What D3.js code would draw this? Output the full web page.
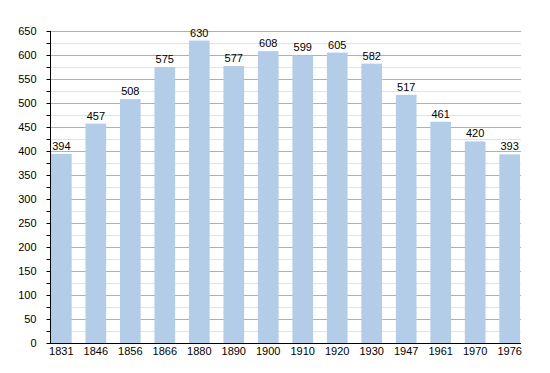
<!DOCTYPE html>
<html>
<head>
<meta charset="utf-8">
<script src="https://cdn.jsdelivr.net/npm/d3@7"></script>
<style>
body{margin:0;background:#fff;}
text{font-family:"Liberation Sans",Arial,sans-serif;}
</style>
</head>
<body>
<div id="chart"></div>
<script>
var years = ["1831","1846","1856","1866","1880","1890","1900","1910","1920","1930","1947","1961","1970","1976"];
var population = [394,457,508,575,630,577,608,599,605,582,517,461,420,393];
var yTicks = [0,50,100,150,200,250,300,350,400,450,500,550,600,650];

var width = 550, height = 373;
var plotLeft = 50, plotRight = 521, plotTop = 31, plotBottom = 343;

var svg = d3.select('#chart').append('svg')
	.attr('width',width)
	.attr('height',height);

var x = d3.scaleBand()
	.domain(years)
	.range([51,520])
	.paddingInner(0.4)
	.paddingOuter(0);

var y = d3.scaleLinear()
	.domain([0,650])
	.range([plotBottom,plotTop]);

// minor grid every 25
var minor = d3.range(25,650,50);
svg.append('g').selectAll('line').data(minor).enter().append('line')
	.attr('x1',plotLeft).attr('x2',plotRight)
	.attr('y1',function(d){return Math.round(y(d))+0.5;})
	.attr('y2',function(d){return Math.round(y(d))+0.5;})
	.style('stroke','#e2e2e2')
	.style('stroke-width',1);

// major grid
svg.append('g').selectAll('line').data(yTicks.slice(1)).enter().append('line')
	.attr('x1',plotLeft).attr('x2',plotRight)
	.attr('y1',function(d){return Math.round(y(d))+0.5;})
	.attr('y2',function(d){return Math.round(y(d))+0.5;})
	.style('stroke','#b0b0b0')
	.style('stroke-width',1);

// bars
svg.append('g').selectAll('rect').data(population).enter().append('rect')
	.attr('x',function(d,i){return x(years[i]);})
	.attr('y',function(d){return y(d);})
	.attr('width',x.bandwidth())
	.attr('height',function(d){return plotBottom-y(d);})
	.style('fill','#b3cde8');

// value labels
svg.append('g').selectAll('text').data(population).enter().append('text')
	.attr('x',function(d,i){return x(years[i])+x.bandwidth()/2;})
	.attr('y',function(d){return y(d)-4;})
	.attr('text-anchor','middle')
	.style('font-size','11px')
	.style('fill','#000')
	.text(function(d){return d;});

// y axis
var yAxis = d3.axisLeft(y)
	.tickValues(d3.range(0,651,25))
	.tickSize(4)
	.tickFormat(function(d){return d%50===0 ? d : '';});
var gy = svg.append('g')
	.attr('transform','translate('+(plotLeft+0.5)+',0)')
	.call(yAxis);
gy.select('.domain').attr('d','M0,'+plotTop+'V'+(plotBottom+0.5));
gy.selectAll('text').style('font-size','11px').attr('x',-14).attr('dy','0.35em');

// x axis line
svg.append('line')
	.attr('x1',plotLeft).attr('x2',plotRight)
	.attr('y1',plotBottom+0.5).attr('y2',plotBottom+0.5)
	.style('stroke','#000')
	.style('stroke-width',1.2);

// x labels
svg.append('g').selectAll('text').data(years).enter().append('text')
	.attr('x',function(d){return x(d)+x.bandwidth()/2;})
	.attr('y',plotBottom+12)
	.attr('text-anchor','middle')
	.style('font-size','11px')
	.text(function(d){return d;});
</script>
</body>
</html>
